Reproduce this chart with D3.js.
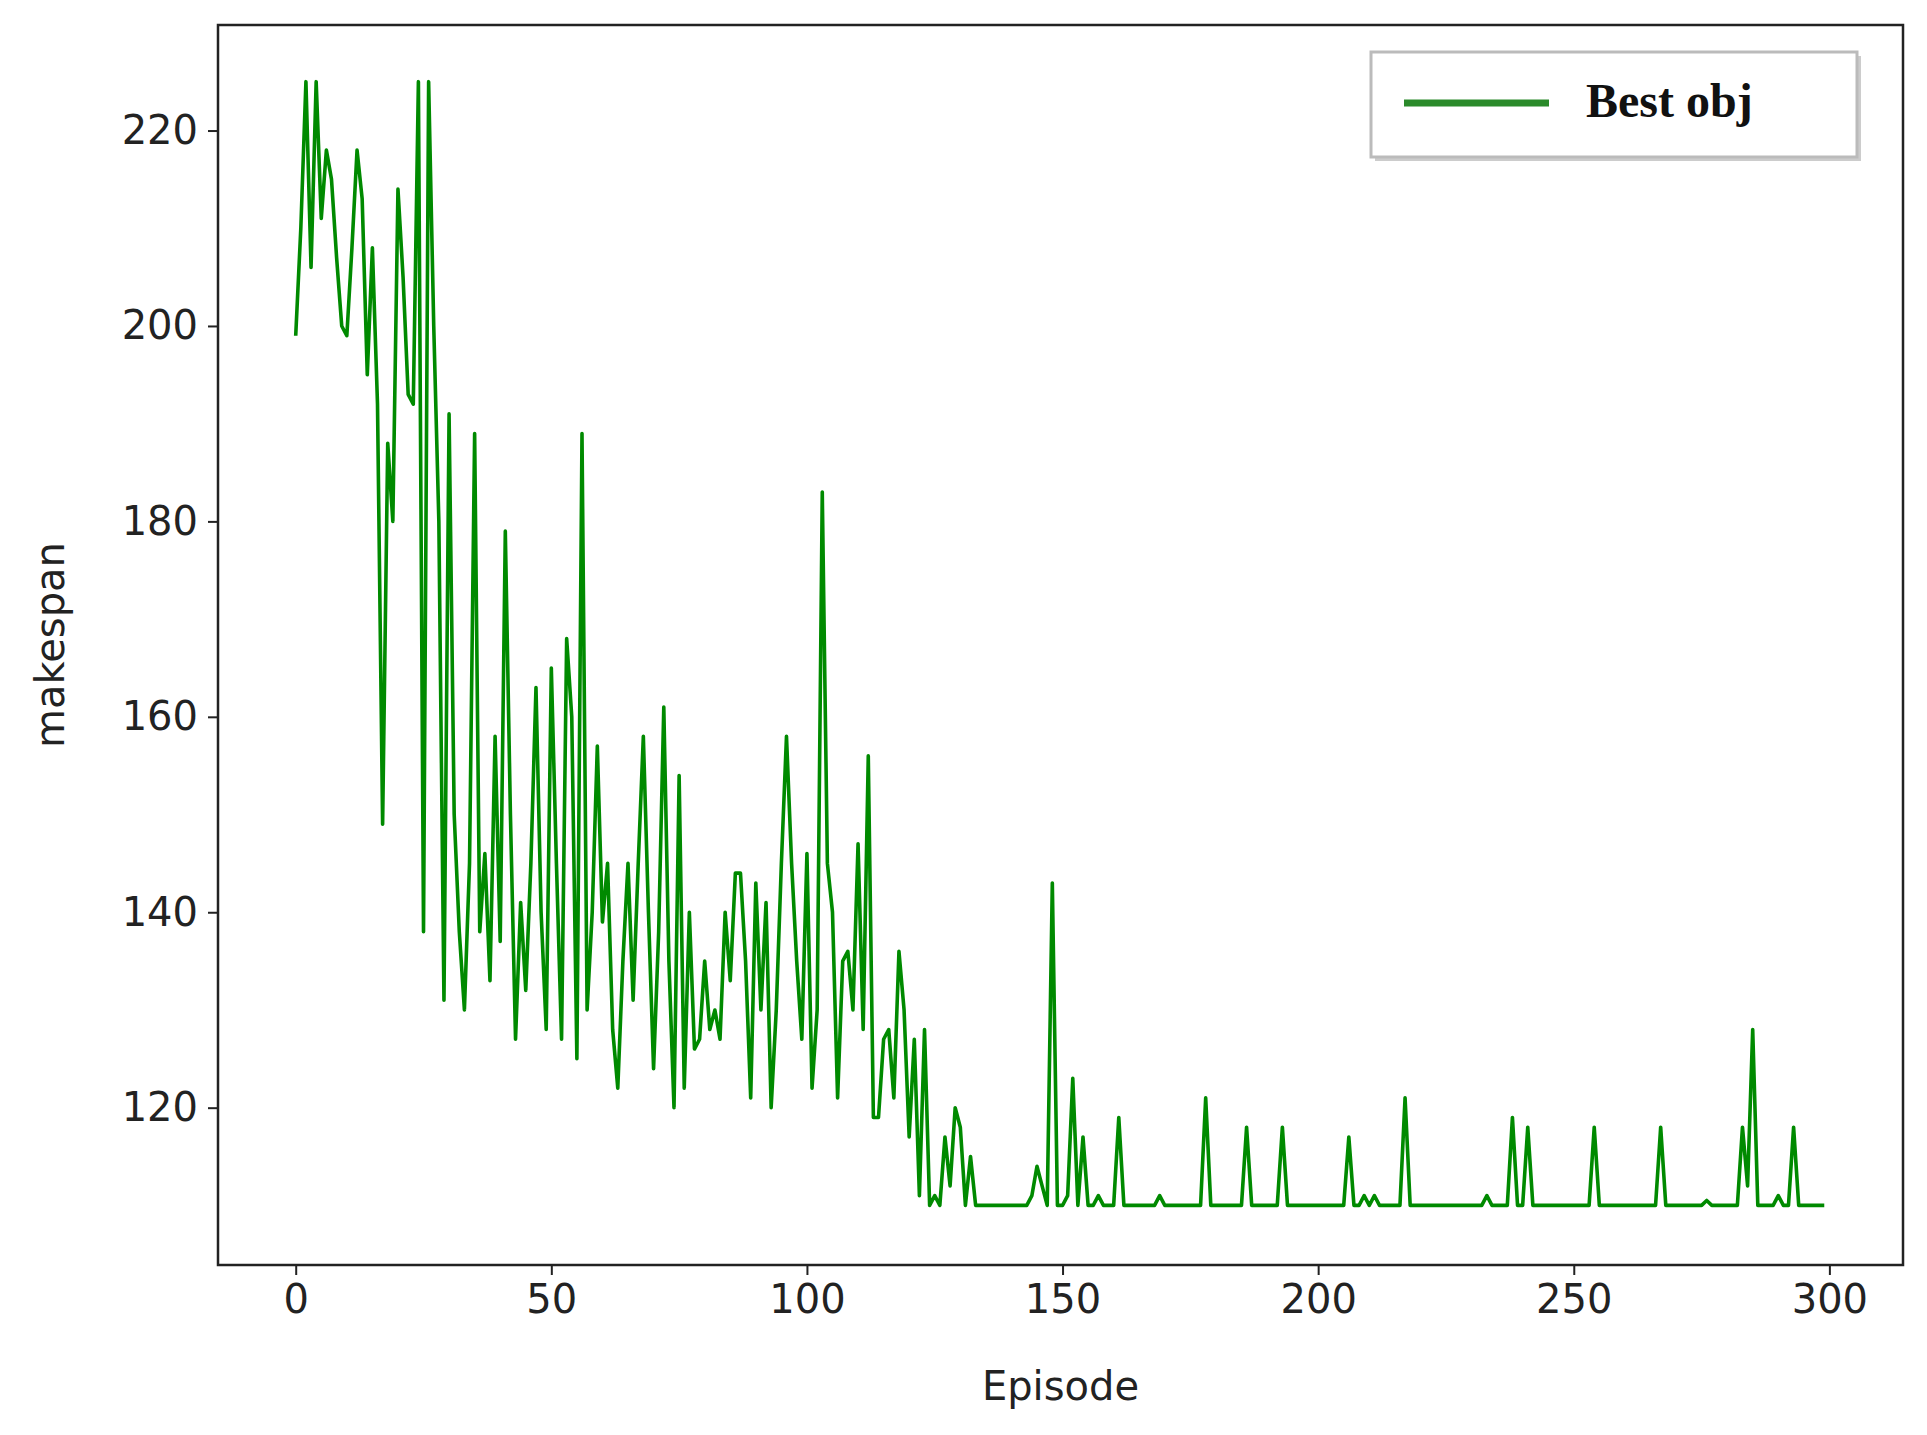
<!DOCTYPE html>
<html><head><meta charset="utf-8">
<script src="https://cdn.jsdelivr.net/npm/d3@7"></script>
<style>body{margin:0;background:#fff}</style></head>
<body><svg id="c" width="1927" height="1435"></svg>
<script>
const valuesA = [199,210,225,206,225,211,218,215,207,200,199,208,218,213,195,208,192,149,188,180,
214,205,193,192,225,138,225,200,180,131,191,150,138,130,145,189,138,146,133,158,
137,179,150,127,141,132,145,163,140,128,165,145,127,168,160,125,189,130,140,157,
139,145,128,122,135,145,131,145,158,140,124,138,161,135,120,154,122,140,126,127,
135,128,130,127,140,133,144,144,135,121,143,130,141,120,130,145,158,145,135,127,
146,122,130,183,145,140,121,135,136,130,147,128,156,119,119,127,128,121,136,130,
117,127,111,128,110,111,110,117,112,120,118,110,115,110];
const valuesB = [110,110,110,110,110,110,110,110,110,110,
111,114,112,110,143,110,110,111,123,110,
117,110,110,111,110,110,110,119,110,110,
110,110,110,110,110,111,110,110,110,110,
110,110,110,110,121,110,110,110,110,110,
110,110,118,110,110,110,110,110,110,118,
110,110,110,110,110,110,110,110,110,110,
110,110,117,110,110,111,110,111,110,110,
110,110,110,121,110,110,110,110,110,110,
110,110,110,110,110,110,110,110,110,111,
110,110,110,110,119,110,110,118,110,110,
110,110,110,110,110,110,110,110,110,110,
118,110,110,110,110,110,110,110,110,110,
110,110,110,118,110,110,110,110,110,110,
110,110,110.5,110,110,110,110,110,110,118,
112,128,110,110,110,110,111,110,110,118,
110,110,110,110,110,110];
const makespan = valuesA.concat(valuesB);
const xTicks = [0,50,100,150,200,250,300];
const yTicks = [120,140,160,180,200,220];
const seriesName = "Best obj";

const svg = d3.select("#c");
const L=218,R=1903,T=25,B=1265;
const x = d3.scaleLinear().domain([-15.2,314.4]).range([L,R]);
const y = d3.scaleLinear().domain([103.9,230.8]).range([B,T]);

svg.append("path").datum(makespan)
  .attr("fill","none").attr("stroke","#008a00").attr("stroke-width",3.6).attr("stroke-linejoin","round")
  .attr("d", d3.line().x((d,i)=>x(i)).y(d=>y(d)));

const font = "'DejaVu Sans', sans-serif";
const xa = svg.append("g").attr("transform",`translate(0,${B})`)
  .call(d3.axisBottom(x).tickValues(xTicks).tickSize(10).tickPadding(10));
const ya = svg.append("g").attr("transform",`translate(${L},0)`)
  .call(d3.axisLeft(y).tickValues(yTicks).tickSize(10).tickPadding(10));
[xa,ya].forEach(a=>{
  a.select(".domain").remove();
  a.selectAll("line").attr("stroke","#222").attr("stroke-width",2);
  a.selectAll("text").attr("font-family",font).attr("font-size",40).attr("fill","#222");
});
svg.append("rect").attr("x",L).attr("y",T).attr("width",R-L).attr("height",B-T)
  .attr("fill","none").attr("stroke","#222").attr("stroke-width",2.5);

svg.append("text").attr("x",(L+R)/2).attr("y",1400).attr("text-anchor","middle")
  .attr("font-family",font).attr("font-size",40).attr("fill","#222").text("Episode");
svg.append("text").attr("transform",`translate(64,${(T+B)/2}) rotate(-90)`).attr("text-anchor","middle")
  .attr("font-family",font).attr("font-size",40).attr("fill","#222").text("makespan");

const lg = svg.append("g");
lg.append("rect").attr("x",1375).attr("y",56).attr("width",486).attr("height",105).attr("fill","#ccc");
lg.append("rect").attr("x",1371).attr("y",52).attr("width",486).attr("height",105)
  .attr("fill","#fff").attr("stroke","#bbb").attr("stroke-width",3);
lg.append("line").attr("x1",1404).attr("x2",1549).attr("y1",103).attr("y2",103)
  .attr("stroke","#2a8a2a").attr("stroke-width",7);
lg.append("text").attr("x",1586).attr("y",117).attr("font-family","'Liberation Serif', serif")
  .attr("font-weight","bold").attr("font-size",48).attr("fill","#111").text(seriesName);
</script></body></html>
